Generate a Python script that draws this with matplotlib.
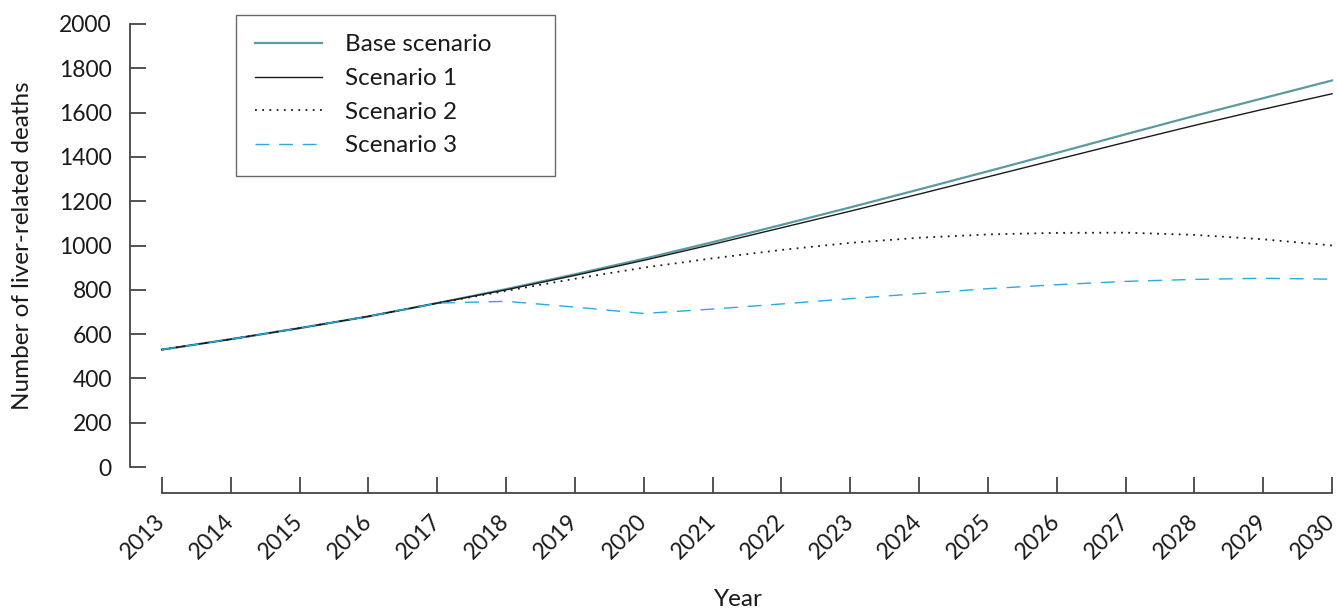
import numpy as np
import matplotlib
matplotlib.use("Agg")
import matplotlib.pyplot as plt

plt.rcParams['font.family'] = ['Lato', 'DejaVu Sans']

years = list(range(2013, 2031))
base = [530, 577, 627, 680, 740, 803, 870, 940, 1015, 1093, 1172, 1253, 1335, 1418, 1502, 1585, 1665, 1745]
scen1 = [530, 577, 627, 680, 740, 800, 865, 933, 1005, 1080, 1155, 1232, 1310, 1388, 1466, 1542, 1615, 1685]
scen2 = [530, 577, 627, 680, 740, 795, 850, 900, 942, 980, 1012, 1035, 1050, 1057, 1058, 1048, 1028, 1000]
scen3 = [530, 577, 627, 680, 740, 748, 722, 693, 713, 736, 760, 783, 805, 823, 838, 847, 852, 848]

fig = plt.figure(figsize=(13.37, 6.11), dpi=100)
ax = fig.add_axes([162/1337, 1-467/611, 1170/1337, 443/611])

ax.plot(years, base, color='#5b9ba0', lw=1.6, label='Base scenario', clip_on=False)
ax.plot(years, scen1, color='#1a1a1a', lw=1.0, label='Scenario 1', clip_on=False)
ax.plot(years, scen2, color='#1a1a1a', lw=1.3, ls=(0, (1, 3)), label='Scenario 2', clip_on=False)
ax.plot(years, scen3, color='#29aae2', lw=1.0, ls=(0, (10, 7)), label='Scenario 3', clip_on=False)

ax.set_xlim(2013, 2030)
ax.set_ylim(0, 2000)
ax.set_xticks(years)
ax.set_yticks(range(0, 2001, 200))

for s in ['top', 'right']:
    ax.spines[s].set_visible(False)
ax.spines['left'].set_position(('outward', 23))
ax.spines['bottom'].set_position(('outward', 19))
ax.spines['left'].set_bounds(0, 2000)
ax.spines['bottom'].set_bounds(2013, 2030)
for s in ['left', 'bottom']:
    ax.spines[s].set_color('#444444')
    ax.spines[s].set_linewidth(1.3)

ax.tick_params(axis='both', direction='in', length=11.5, width=1.3, color='#444444', labelsize=16.5, labelcolor='#1a1a1a')
ax.tick_params(axis='y', pad=13)
ax.tick_params(axis='x', pad=18)
for lab in ax.get_xticklabels():
    lab.set_rotation(45)
    lab.set_ha('right')
    lab.set_va('center')
    lab.set_rotation_mode('anchor')

ax.set_ylabel('Number of liver-related deaths', fontsize=17.5, color='#1a1a1a')
ax.yaxis.set_label_coords(-129/1170, 0.5)
fig.text(738/1337, 1-600/611, 'Year', fontsize=17.5, color='#1a1a1a', ha='center', va='center')

leg = ax.legend(loc='upper left', bbox_to_anchor=(236/1337, 1-15/611, 319/1337, 0), bbox_transform=fig.transFigure,
                mode='expand', borderaxespad=0, fancybox=False, frameon=True, fontsize=17.5, handlelength=2.75,
                handletextpad=0.95, labelspacing=0.52, borderpad=0.8)
leg.get_frame().set_edgecolor('#444444')
leg.get_frame().set_linewidth(1.0)
for t in leg.get_texts():
    t.set_color('#1a1a1a')

fig.savefig('out.png', dpi=100)
